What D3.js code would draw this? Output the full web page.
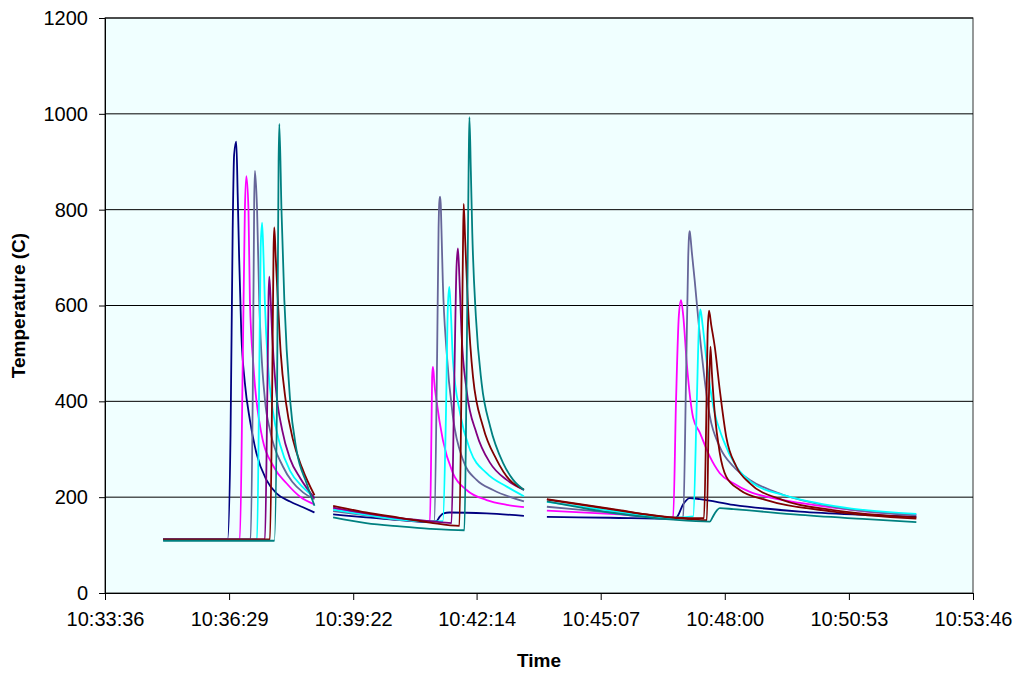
<!DOCTYPE html>
<html>
<head>
<meta charset="utf-8">
<script src="https://cdn.jsdelivr.net/npm/d3@7"></script>
<style>
  body { margin: 0; background: #ffffff; }
  svg { display: block; }
  text { font-family: Arial, "Liberation Sans", sans-serif; fill: #000; }
</style>
</head>
<body>
<svg id="chart" width="1021" height="675"></svg>
<script>
// Axis ticks
const timeTicks = ["10:33:36", "10:36:29", "10:39:22", "10:42:14", "10:45:07", "10:48:00", "10:50:53", "10:53:46"];
const tempTicks = [0, 200, 400, 600, 800, 1000, 1200];

// Thermocouple readings [clock time, °C], one sub-array per run (gaps between runs)
const tc1 = [
  [["10:34:57",113],["10:36:27",113],["10:36:31",330],["10:36:34",760],["10:36:36",915],["10:36:39",942],["10:36:41",830],["10:36:43",700],["10:36:46",543],["10:36:51",438],["10:36:58",361],["10:37:07",292],["10:37:21",236],["10:37:35",208],["10:37:54",191],["10:38:12",179],["10:38:28",168]],
  [["10:38:54",164],["10:39:40",158],["10:40:27",152],["10:41:09",148],["10:41:18",150],["10:41:23",160],["10:41:28",166],["10:41:36",168],["10:42:28",166],["10:43:20",161]],
  [["10:43:52",159],["10:45:20",157],["10:46:48",155],["10:46:53",158],["10:47:02",185],["10:47:11",198],["10:47:25",196],["10:48:12",184],["10:49:45",170],["10:51:18",163],["10:52:27",159]]
];
const tc2 = [
  [["10:34:57",112],["10:36:44",112],["10:36:48",480],["10:36:51",800],["10:36:53",870],["10:36:56",800],["10:36:58",611],["10:37:03",472],["10:37:14",333],["10:37:31",264],["10:37:49",229],["10:38:08",201],["10:38:28",185]],
  [["10:38:54",176],["10:39:40",165],["10:40:27",153],["10:41:09",150],["10:41:11",330],["10:41:12",450],["10:41:13",472],["10:41:14",462],["10:41:15",440],["10:41:18",403],["10:41:27",319],["10:41:41",250],["10:42:00",215],["10:42:28",194],["10:42:56",184],["10:43:20",179]],
  [["10:43:52",172],["10:45:20",165],["10:46:48",157],["10:46:52",400],["10:46:56",580],["10:46:59",611],["10:47:02",580],["10:47:07",479],["10:47:16",365],["10:47:25",335],["10:47:39",285],["10:47:53",250],["10:48:12",229],["10:48:35",211],["10:48:58",201],["10:49:45",188],["10:50:31",178],["10:51:18",170],["10:52:27",163]]
];
const tc3 = [
  [["10:34:57",112],["10:36:59",112],["10:37:02",420],["10:37:04",820],["10:37:05",881],["10:37:08",800],["10:37:11",611],["10:37:19",403],["10:37:26",340],["10:37:44",264],["10:37:57",232],["10:38:12",210],["10:38:28",196]],
  [["10:38:54",171],["10:39:40",162],["10:40:27",152],["10:41:09",149],["10:41:15",150],["10:41:19",500],["10:41:21",760],["10:41:22",815],["10:41:23",827],["10:41:24",812],["10:41:25",760],["10:41:27",646],["10:41:32",507],["10:41:41",368],["10:41:55",278],["10:42:14",236],["10:42:37",215],["10:43:20",191]],
  [["10:43:52",180],["10:45:20",168],["10:46:48",156],["10:47:02",158],["10:47:06",450],["10:47:09",700],["10:47:10",742],["10:47:11",755],["10:47:12",745],["10:47:14",712],["10:47:18",653],["10:47:25",540],["10:47:39",370],["10:47:53",305],["10:48:12",264],["10:48:35",236],["10:49:21",205],["10:50:31",180],["10:52:27",162]]
];
const tc4 = [
  [["10:34:57",112],["10:37:08",112],["10:37:11",450],["10:37:13",720],["10:37:15",773],["10:37:17",700],["10:37:19",600],["10:37:23",480],["10:37:30",380],["10:37:40",310],["10:37:54",255],["10:38:11",222],["10:38:28",200]],
  [["10:38:54",174],["10:39:40",163],["10:40:27",153],["10:41:09",149],["10:41:27",150],["10:41:31",350],["10:41:34",600],["10:41:36",639],["10:41:38",590],["10:41:41",486],["10:41:51",375],["10:42:05",298],["10:42:28",250],["10:42:56",222],["10:43:20",202]],
  [["10:43:52",190],["10:45:20",172],["10:46:48",157],["10:47:16",160],["10:47:21",400],["10:47:24",560],["10:47:26",592],["10:47:29",560],["10:47:35",479],["10:47:44",389],["10:47:58",319],["10:48:16",264],["10:48:39",229],["10:49:21",205],["10:50:31",182],["10:52:27",165]]
];
const tc5 = [
  [["10:34:57",112],["10:37:19",112],["10:37:22",380],["10:37:24",620],["10:37:25",660],["10:37:27",610],["10:37:29",540],["10:37:34",430],["10:37:43",340],["10:37:54",280],["10:38:08",240],["10:38:28",198]],
  [["10:38:54",178],["10:39:40",166],["10:40:27",156],["10:41:09",150],["10:41:39",146],["10:41:43",450],["10:41:46",680],["10:41:48",719],["10:41:50",660],["10:41:53",542],["10:42:00",424],["10:42:14",333],["10:42:33",271],["10:42:56",236],["10:43:20",215]],
  [["10:43:52",195],["10:45:20",175],["10:46:48",157],["10:47:35",152],["10:47:38",420],["10:47:40",514],["10:47:42",460],["10:47:46",375],["10:47:53",292],["10:48:02",243],["10:48:21",215],["10:48:58",194],["10:50:31",170],["10:52:27",155]]
];
const tc6 = [
  [["10:34:57",112],["10:37:26",112],["10:37:29",420],["10:37:31",720],["10:37:32",763],["10:37:34",700],["10:37:36",640],["10:37:41",500],["10:37:48",400],["10:37:58",320],["10:38:11",260],["10:38:28",204]],
  [["10:38:54",182],["10:39:40",168],["10:40:27",157],["10:41:09",147],["10:41:50",140],["10:41:53",450],["10:41:55",720],["10:41:56",812],["10:41:58",740],["10:42:02",598],["10:42:09",451],["10:42:23",347],["10:42:42",278],["10:43:00",236],["10:43:20",216]],
  [["10:43:52",196],["10:45:20",176],["10:46:48",158],["10:47:31",156],["10:47:34",350],["10:47:36",540],["10:47:38",589],["10:47:41",560],["10:47:46",514],["10:47:53",424],["10:48:02",326],["10:48:16",264],["10:48:35",229],["10:49:21",194],["10:50:31",173],["10:52:27",158]]
];
const tc7 = [
  [["10:34:57",109],["10:37:32",109],["10:37:36",450],["10:37:38",900],["10:37:39",979],["10:37:42",800],["10:37:46",611],["10:37:54",403],["10:38:03",298],["10:38:17",229],["10:38:28",182]],
  [["10:38:54",158],["10:39:40",146],["10:40:27",139],["10:41:09",134],["10:41:57",131],["10:42:00",450],["10:42:03",900],["10:42:04",993],["10:42:06",880],["10:42:08",751],["10:42:13",577],["10:42:21",438],["10:42:33",347],["10:42:51",271],["10:43:05",236],["10:43:20",215]],
  [["10:43:52",191],["10:45:20",168],["10:46:48",153],["10:47:39",149],["10:47:43",158],["10:47:46",166],["10:47:53",177],["10:48:12",175],["10:49:45",163],["10:51:18",154],["10:52:27",148]]
];

const channels = [tc1, tc2, tc3, tc4, tc5, tc6, tc7];
// Stroke colour of each channel in each run (run 3 plots channel 5 in maroon)
const runColors = [
  ["#000080", "#FF00FF", "#666699", "#00FFFF", "#800080", "#800000", "#008080"],
  ["#000080", "#FF00FF", "#666699", "#00FFFF", "#800080", "#800000", "#008080"],
  ["#000080", "#FF00FF", "#666699", "#00FFFF", "#800000", "#800000", "#008080"]
];

// Layout
const plot = { left: 105, right: 973, top: 18, bottom: 593 };
const parseClock = d3.timeParse("%H:%M:%S");
const tickFont = 20;
const titleFont = 19;

const svg = d3.select("#chart");

const x = d3.scaleTime()
  .domain([parseClock(timeTicks[0]), parseClock(timeTicks[timeTicks.length - 1])])
  .range([plot.left, plot.right]);
const y = d3.scaleLinear()
  .domain([tempTicks[0], tempTicks[tempTicks.length - 1]])
  .range([plot.bottom, plot.top]);

// Plot background
svg.append("rect")
  .attr("x", plot.left).attr("y", plot.top)
  .attr("width", plot.right - plot.left).attr("height", plot.bottom - plot.top)
  .attr("fill", "#F0FFFF")
  .attr("stroke", "#333").attr("stroke-width", 1);

// Horizontal gridlines
svg.append("g")
  .selectAll("line")
  .data(tempTicks.slice(1))
  .join("line")
  .attr("x1", plot.left).attr("x2", plot.right)
  .attr("y1", d => y(d)).attr("y2", d => y(d))
  .attr("stroke", "#000").attr("stroke-width", 1);

// Temperature traces
const line = d3.line()
  .x(d => x(parseClock(d[0])))
  .y(d => y(d[1]))
  .curve(d3.curveMonotoneX);

const lines = svg.append("g").attr("fill", "none").attr("stroke-width", 1.8).attr("stroke-linejoin", "round");
channels.forEach((runs, i) => {
  runs.forEach((run, r) => {
    lines.append("path")
      .attr("d", line(run))
      .attr("stroke", runColors[r][i]);
  });
});

// Axes
const xAxis = d3.axisBottom(x)
  .tickValues(timeTicks.map(parseClock))
  .tickFormat((d, i) => timeTicks[i])
  .tickSize(7).tickPadding(12);
const gx = svg.append("g").attr("transform", `translate(0,${plot.bottom})`).call(xAxis);
gx.select(".domain").attr("stroke", "#000");
gx.selectAll("text").attr("font-size", tickFont).attr("font-family", "Arial, 'Liberation Sans', sans-serif");

const yAxis = d3.axisLeft(y)
  .tickValues(tempTicks)
  .tickFormat(d3.format("d"))
  .tickSize(6).tickPadding(11);
const gy = svg.append("g").attr("transform", `translate(${plot.left},0)`).call(yAxis);
gy.select(".domain").attr("stroke", "#000");
gy.selectAll("text").attr("font-size", tickFont).attr("font-family", "Arial, 'Liberation Sans', sans-serif");

// Axis titles
svg.append("text")
  .attr("x", (plot.left + plot.right) / 2).attr("y", 667)
  .attr("text-anchor", "middle")
  .attr("font-size", titleFont).attr("font-weight", "bold")
  .text("Time");

svg.append("text")
  .attr("transform", `translate(25,${(plot.top + plot.bottom) / 2}) rotate(-90)`)
  .attr("text-anchor", "middle")
  .attr("font-size", titleFont).attr("font-weight", "bold")
  .text("Temperature (C)");
</script>
</body>
</html>
